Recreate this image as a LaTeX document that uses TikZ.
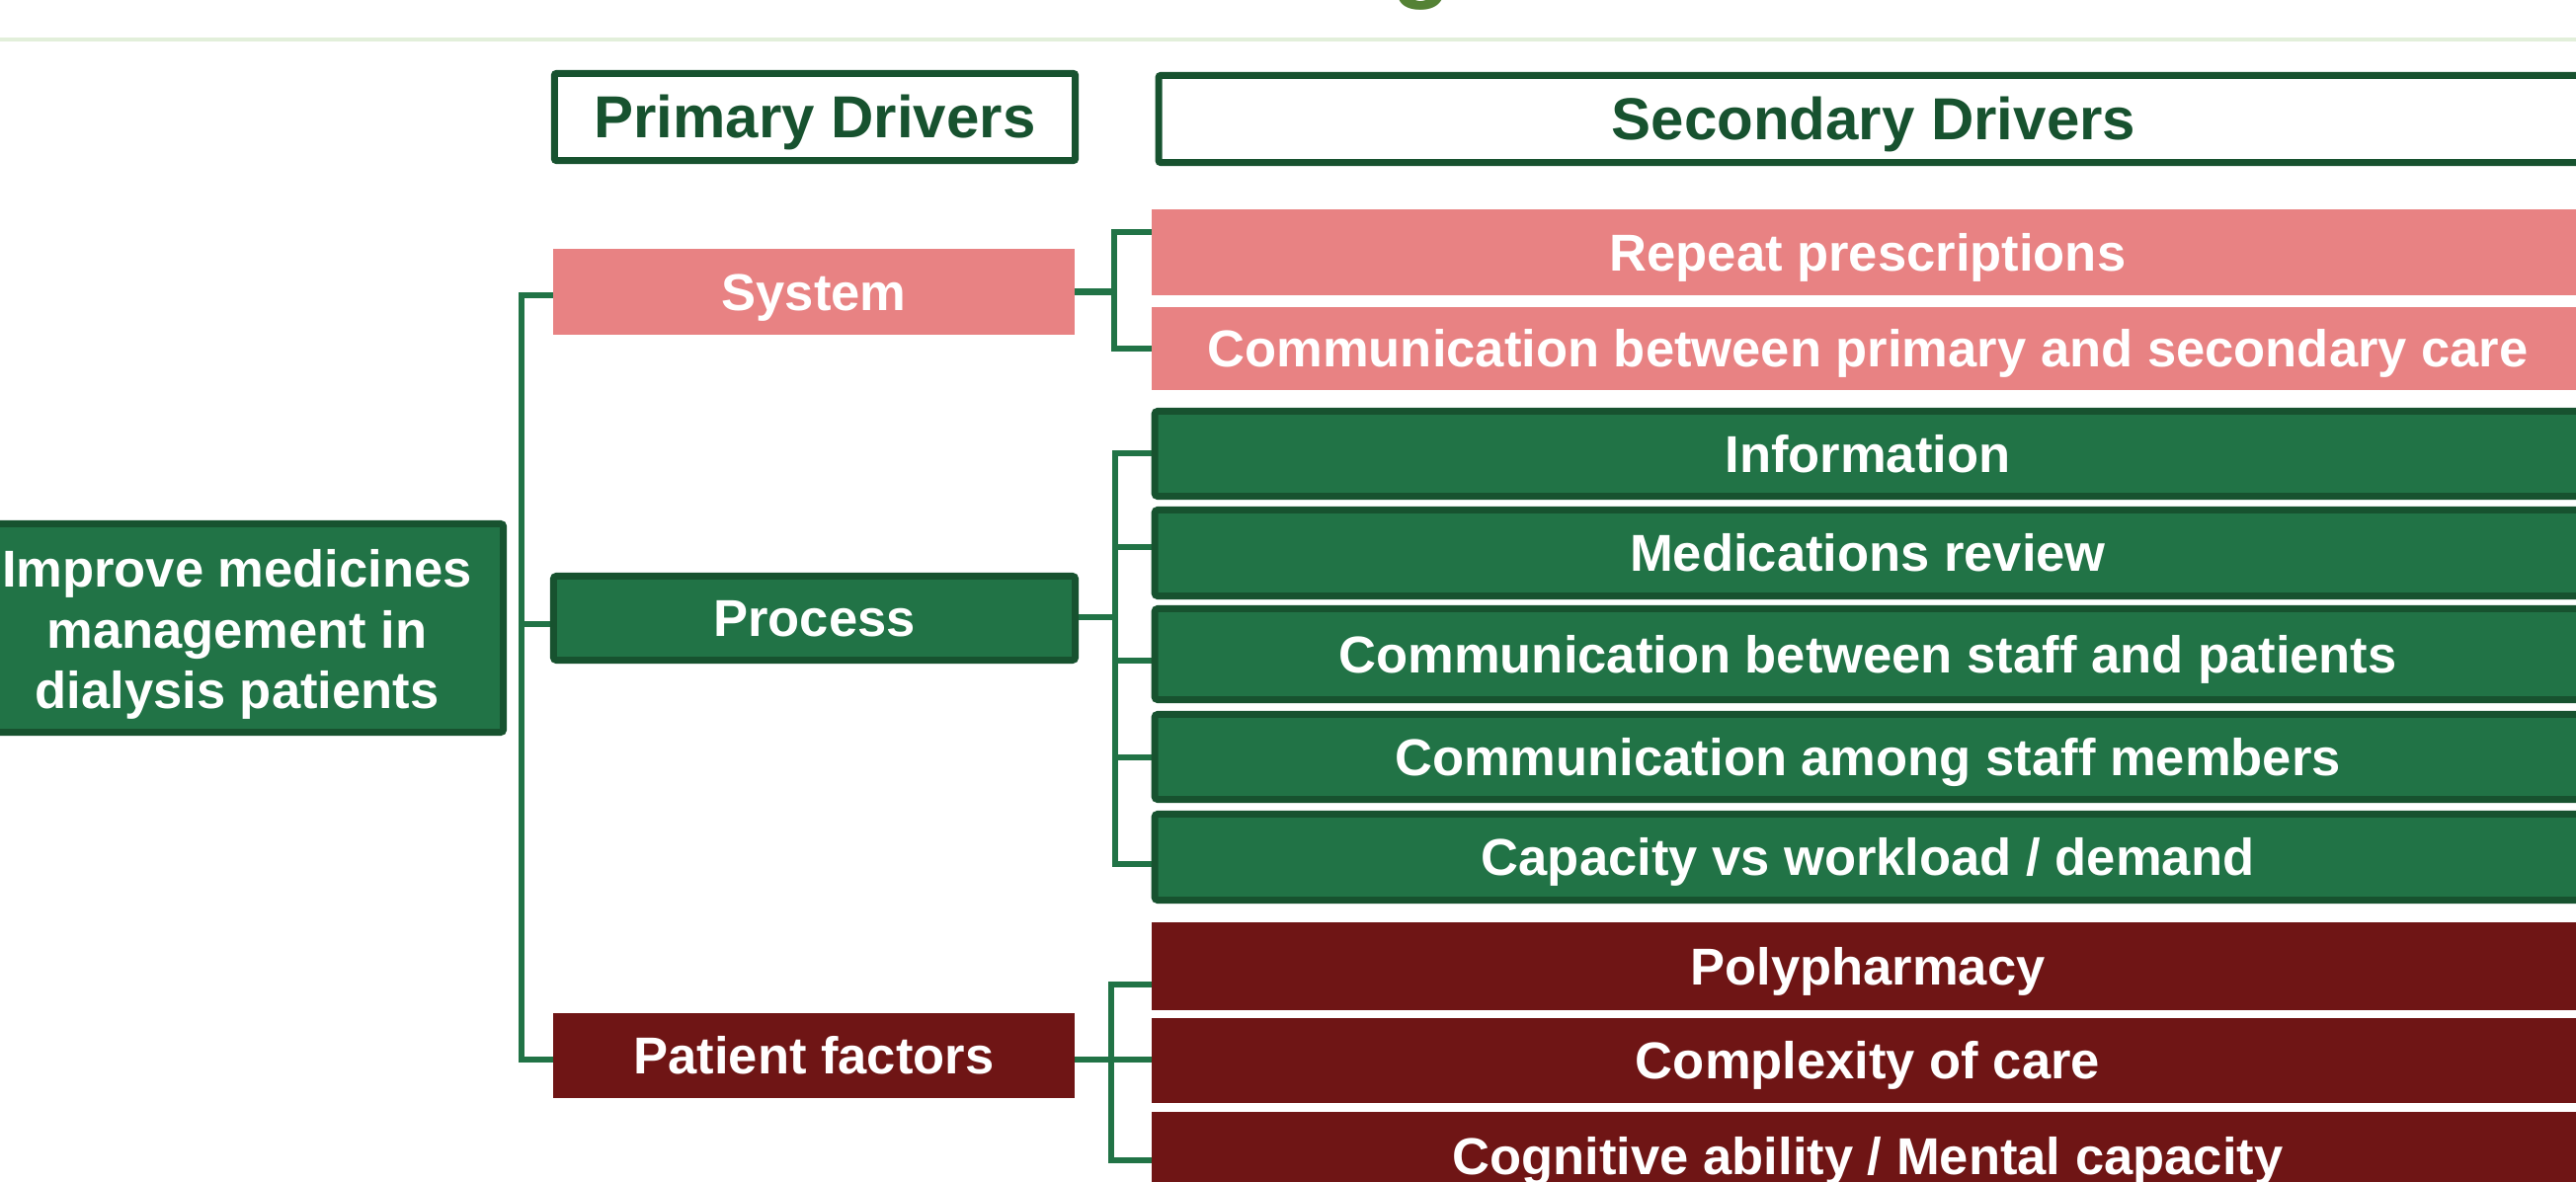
\documentclass[tikz,border=0pt]{standalone}
\usepackage{fontspec}
\setmainfont{Liberation Sans}
\usetikzlibrary{backgrounds,calc}
\definecolor{dkgreen}{HTML}{17522F}
\definecolor{midgreen}{HTML}{217346}
\definecolor{rose}{HTML}{E88283}
\definecolor{maroon}{HTML}{6F1515}
\definecolor{paleline}{HTML}{E2EFDA}
\definecolor{olive}{HTML}{548235}

\begin{document}
\begin{tikzpicture}[x=0.01cm,y=-0.01cm,
  every node/.append style={outer sep=0pt},
  txt/.style={font=\fontsize{14.94pt}{17.4pt}\selectfont\bfseries, text=white,
    inner sep=0pt, text height=10.7pt, text depth=0pt},
  head/.style={draw=dkgreen, line width=0.07cm, fill=white, rounded corners=0.02cm,
    font=\fontsize{17.07pt}{20pt}\selectfont\bfseries, text=dkgreen,
    inner sep=0pt, text height=12.2pt, text depth=0pt, minimum height=0.88cm},
  pinkbox/.style={txt, fill=rose},
  greenbox/.style={txt, fill=midgreen, draw=dkgreen, line width=0.07cm, rounded corners=0.03cm},
  redbox/.style={txt, fill=maroon},
  prim/.style={minimum width=5.28cm},
  secp/.style={minimum width=14.50cm},
  secg/.style={minimum width=14.43cm},
  goalbox/.style={fill=midgreen, draw=dkgreen, line width=0.07cm, rounded corners=0.03cm,
    font=\fontsize{14.94pt}{17.4pt}\selectfont\bfseries, text=white, align=center,
    inner sep=0pt, minimum width=5.39cm, minimum height=2.11cm},
  link/.style={draw=midgreen, line width=0.06cm}
]
\useasboundingbox (0,0) rectangle (2608,1197);

% title remnant and rule under the title band
\node[font=\fontsize{28pt}{30pt}\selectfont\bfseries, text=olive, anchor=base, inner sep=0pt] (titleg) at (1440,-10) {g};
\draw[paleline, line width=0.04cm] (0,40) -- (2608,40);

% column headers
\node[head, minimum width=5.27cm] (hprim) at (825,118.5) {Primary Drivers};
\node[head, minimum width=14.47cm] (hsec) at (1897,120.5) {Secondary Drivers};

% aim
\node[goalbox] (goal) at (240,636) {\rule{0pt}{14.5pt}Improve medicines\\management in\\dialysis patients};

% primary drivers
\node[pinkbox, prim, minimum height=0.87cm] (sys) at (824,295.5) {System};
\node[greenbox, prim, minimum height=0.85cm] (proc) at (824.5,626) {Process};
\node[redbox, prim, minimum height=0.86cm] (pat) at (824,1069) {Patient factors};

% secondary drivers
\node[pinkbox, secp, minimum height=0.87cm] (rp) at (1891,255.5) {Repeat prescriptions};
\node[pinkbox, secp, minimum height=0.84cm] (cps) at (1891,353) {Communication between primary and secondary care};
\node[greenbox, secg, minimum height=0.86cm] (info) at (1891,459.5) {Information};
\node[greenbox, secg, minimum height=0.87cm] (med) at (1891,560) {Medications review};
\node[greenbox, secg, minimum height=0.92cm] (csp) at (1891,662.5) {Communication between staff and patients};
\node[greenbox, secg, minimum height=0.86cm] (among) at (1891,766.5) {Communication among staff members};
\node[greenbox, secg, minimum height=0.87cm] (cap) at (1891,868) {Capacity vs workload / demand};
\node[redbox, secp, minimum height=0.89cm] (poly) at (1891,978.5) {Polypharmacy};
\node[redbox, secp, minimum height=0.86cm] (cplx) at (1891,1074) {Complexity of care};
\node[redbox, secp, minimum height=0.89cm] (cog) at (1891,1170.5) {Cognitive ability / Mental capacity};

\begin{pgfonlayer}{background}
  % aim -> primary drivers
  \draw[link] ($(sys.west)+(0,3.5)$) -- ++(-31.5,0) |- ($(pat.west)+(0,4)$);
  \draw[link] ($(proc.west)+(0,6)$) -- ++(-32,0);
  % system -> secondary
  \draw[link] (sys.east) -- ++(40,0);
  \draw[link] ($(rp.west)+(0,-20.5)$) -- ++(-38,0) |- (cps.west);
  % process -> secondary
  \draw[link] ($(proc.east)+(0,-1)$) -- ++(40.5,0);
  \draw[link] ($(info.west)+(0,-0.5)$) -- ++(-40.5,0) |- ($(cap.west)+(0,7)$);
  \draw[link] ($(med.west)+(0,-6)$) -- ++(-40.5,0);
  \draw[link] ($(csp.west)+(0,6.5)$) -- ++(-40.5,0);
  \draw[link] (among.west) -- ++(-40.5,0);
  % patient factors -> secondary
  \draw[link] ($(pat.east)+(0,4)$) -- ++(37,0);
  \draw[link] ($(poly.west)+(0,18.5)$) -- ++(-41,0) |- ($(cog.west)+(0,4.5)$);
  \draw[link] ($(cplx.west)+(0,-1)$) -- ++(-41,0);
\end{pgfonlayer}
\end{tikzpicture}
\end{document}
